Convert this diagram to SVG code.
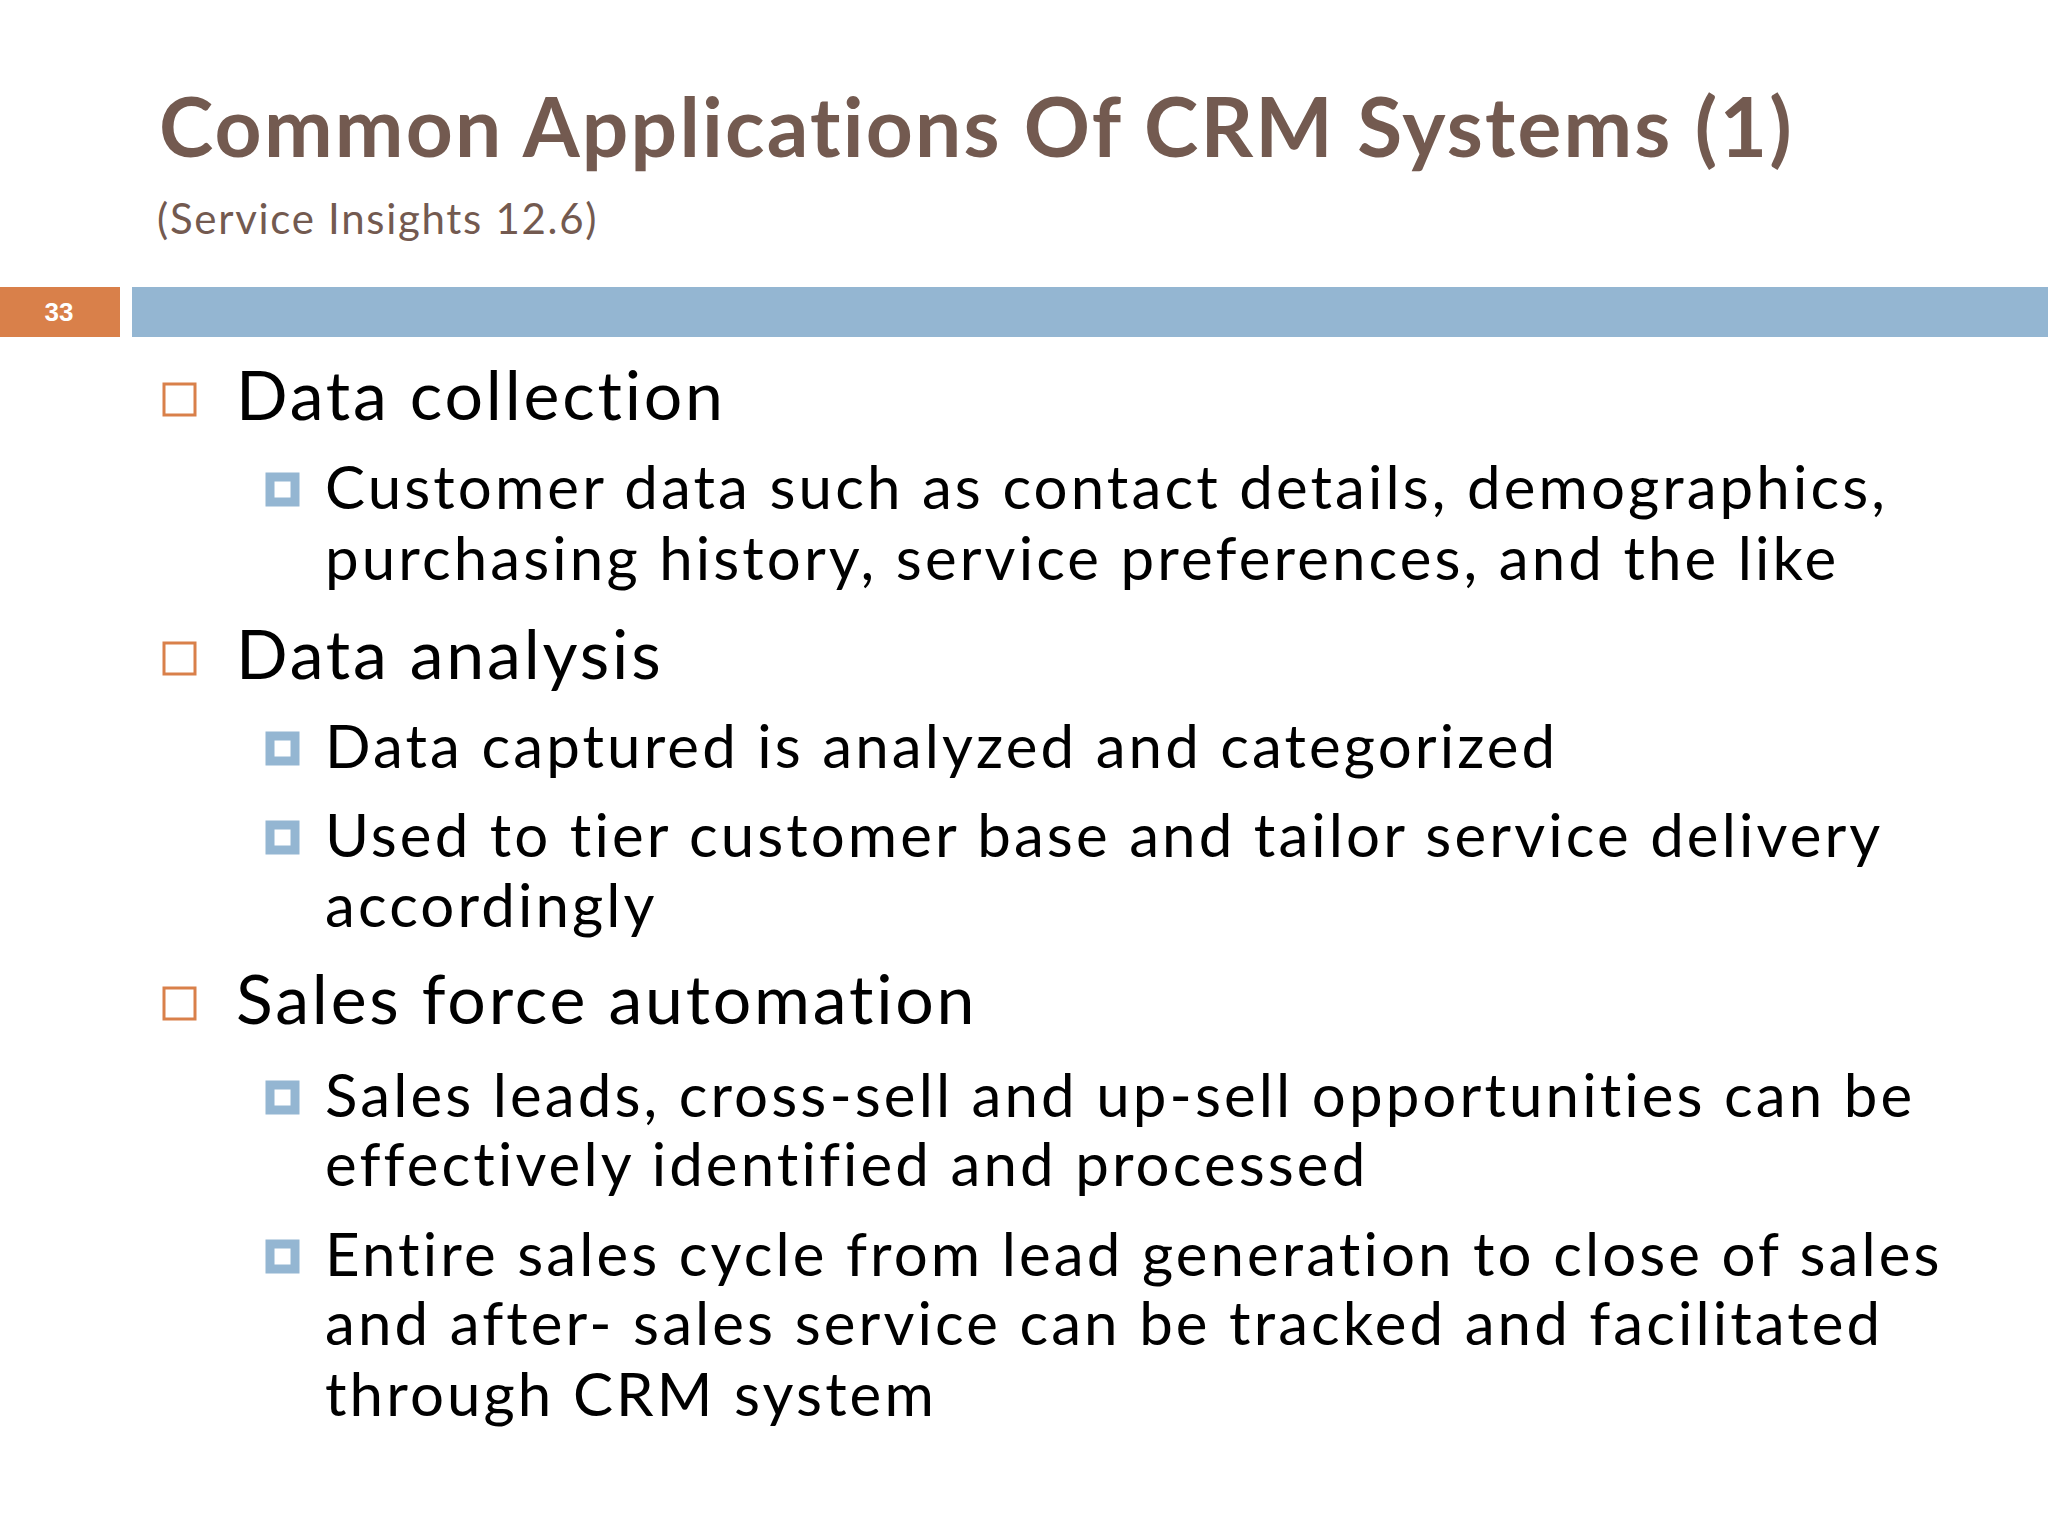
<svg xmlns="http://www.w3.org/2000/svg" width="2048" height="1536" viewBox="0 0 2048 1536">
<style>
text{font-variant-ligatures:none}
.t{font-family:Lato,"Open Sans",sans-serif;fill:#000}
.l1{font-size:68px;letter-spacing:2.8px}
.l2{font-size:60px;letter-spacing:3.1px}
.b1{fill:none;stroke:#d9804a;stroke-width:3}
.b2{fill:#fff;stroke:#94b6d2;stroke-width:9}
</style>
<rect width="2048" height="1536" fill="#fff"/>
<g id="header">
<text x="159" y="157" font-family="Lato,sans-serif" font-weight="bold" font-size="82" fill="#735a50" letter-spacing="2.2">Common Applications Of CRM Systems (1)</text>
<text x="157" y="234" font-family="Lato,sans-serif" font-size="42" fill="#735a50" letter-spacing="1.7">(Service Insights 12.6)</text>
<rect x="0" y="287" width="120" height="50" fill="#d9804a"/>
<text x="59" y="321" text-anchor="middle" font-family="Liberation Sans,sans-serif" font-weight="bold" font-size="26" fill="#fff">33</text>
<rect x="132" y="287" width="1916" height="50" fill="#94b6d2"/>
</g>
<g id="bullets">
<rect class="b1" x="164" y="384" width="31" height="31"/>
<text class="t l1" x="236" y="420">Data collection</text>
<rect class="b2" x="270" y="477" width="25" height="25"/>
<text class="t l2" x="325" y="509">Customer data such as contact details, demographics,</text>
<text class="t l2" x="325" y="580">purchasing history, service preferences, and the like</text>
<rect class="b1" x="164" y="643" width="31" height="31"/>
<text class="t l1" x="236" y="679">Data analysis</text>
<rect class="b2" x="270" y="736" width="25" height="25"/>
<text class="t l2" x="325" y="768">Data captured is analyzed and categorized</text>
<rect class="b2" x="270" y="825" width="25" height="25"/>
<text class="t l2" x="325" y="857">Used to tier customer base and tailor service delivery</text>
<text class="t l2" x="325" y="927">accordingly</text>
<rect class="b1" x="164" y="988" width="31" height="31"/>
<text class="t l1" x="236" y="1024">Sales force automation</text>
<rect class="b2" x="270" y="1085" width="25" height="25"/>
<text class="t l2" x="325" y="1117">Sales leads, cross-sell and up-sell opportunities can be</text>
<text class="t l2" x="325" y="1186">effectively identified and processed</text>
<rect class="b2" x="270" y="1244" width="25" height="25"/>
<text class="t l2" x="325" y="1276">Entire sales cycle from lead generation to close of sales</text>
<text class="t l2" x="325" y="1345">and after- sales service can be tracked and facilitated</text>
<text class="t l2" x="325" y="1416">through CRM system</text>
</g>
</svg>
